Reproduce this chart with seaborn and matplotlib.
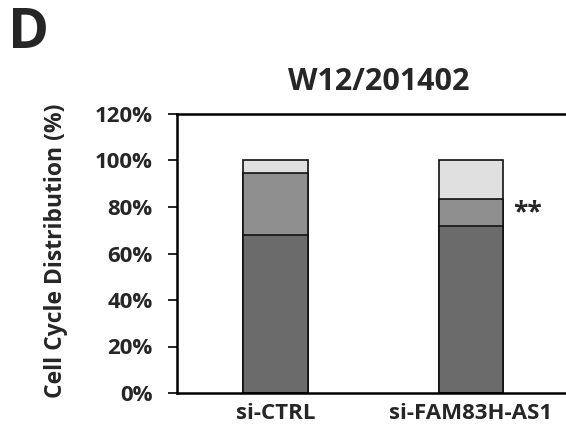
import matplotlib
matplotlib.use("Agg")
import matplotlib.pyplot as plt
import seaborn as sns
import pandas as pd
import numpy as np

# Cell cycle phase fractions (%) per condition
categories = ["si-CTRL", "si-FAM83H-AS1"]
g0g1 = [68.1, 72.0]
s_phase = [26.5, 11.6]
g2m = [5.4, 16.4]
y_ticks = [0, 20, 40, 60, 80, 100, 120]
y_tick_labels = ["0%", "20%", "40%", "60%", "80%", "100%", "120%"]

sns.set_theme(style="white")
plt.rcParams["font.family"] = ["Open Sans", "DejaVu Sans"]
plt.rcParams["font.weight"] = "bold"

fig = plt.figure(figsize=(5.66, 4.32), dpi=100)
ax = fig.add_axes([177 / 566, 1 - 393 / 432, 1 - 177 / 566, (393 - 114) / 432])

cum1 = np.array(g0g1)
cum2 = cum1 + np.array(s_phase)
cum3 = cum2 + np.array(g2m)

layers = [(cum3, "#e0e0e0"), (cum2, "#8f8f8f"), (cum1, "#6b6b6b")]
for vals, col in layers:
    df = pd.DataFrame({"cond": categories, "val": vals})
    sns.barplot(data=df, x="cond", y="val", color=col, width=0.33,
                edgecolor="#111111", linewidth=1.2, saturation=1, ax=ax)

ax.set_xlim(-0.504, 1.486)
ax.set_ylim(0, 120)
ax.set_yticks(y_ticks)
ax.set_yticklabels(y_tick_labels, fontsize=16, fontweight="bold")
ax.set_xticks([0, 1])
ax.set_xticklabels(categories, fontsize=16, fontweight="bold")
ax.set_xlabel("")
ax.set_ylabel("")

ax.tick_params(axis="y", which="both", left=True, direction="out", length=6.5, width=1.2,
               color="black", pad=11)
ax.tick_params(axis="x", bottom=False, pad=1.5)

for side in ["left", "top", "bottom"]:
    ax.spines[side].set_visible(True)
    ax.spines[side].set_color("black")
    ax.spines[side].set_linewidth(1.8)
ax.spines["right"].set_visible(False)

# significance marker beside the knockdown bar
ax.text(1.215, 77.4, "**", fontsize=19, fontweight="bold", ha="left", va="center")

fig.text(56 / 566, 1 - 251 / 432, "Cell Cycle Distribution (%)", fontsize=16.5,
         fontweight="bold", rotation=90, ha="center", va="center")
fig.text(378.5 / 566, 1 - 81.5 / 432, "W12/201402", fontsize=22, fontweight="bold",
         ha="center", va="center")
fig.text(8 / 566, 1 - 33 / 432, "D", fontsize=40, fontweight="bold", ha="left", va="center")

fig.savefig("out.png", dpi=100)
